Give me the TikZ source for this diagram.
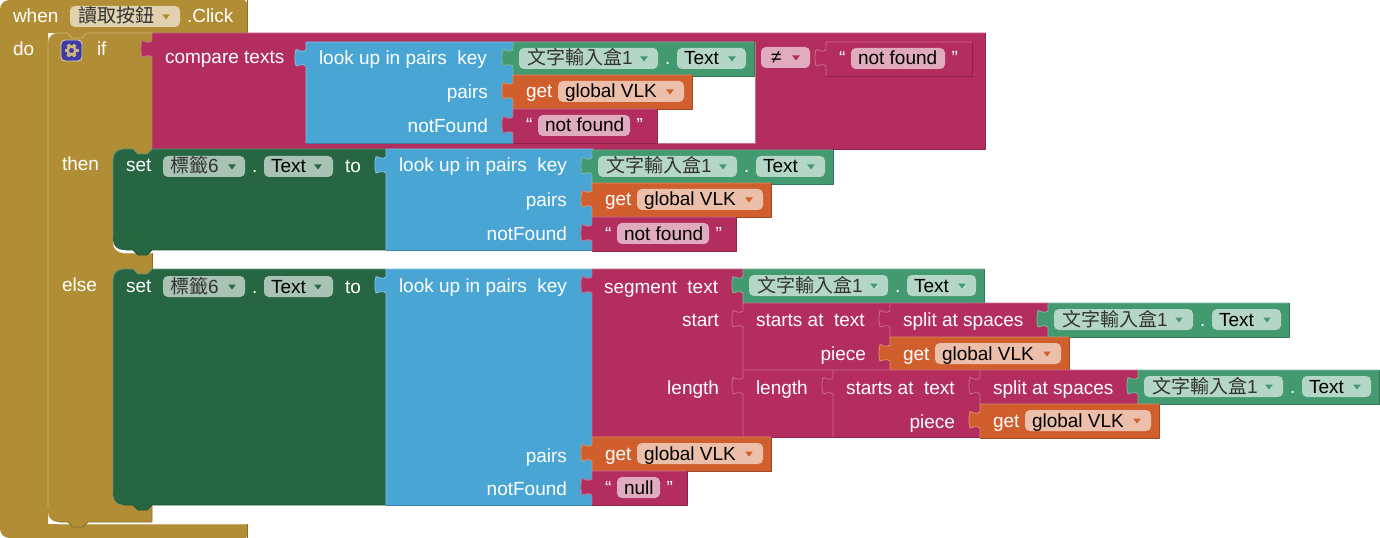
\documentclass[tikz,border=0pt]{standalone}
\usepackage{fontspec}
\setmainfont{Liberation Sans}
\newfontfamily\cjk{Noto Sans CJK TC}
\usetikzlibrary{calc}
\definecolor{cG}{HTML}{B18E35}
\definecolor{cT}{HTML}{B32D5E}
\definecolor{cB}{HTML}{49A6D4}
\definecolor{cD}{HTML}{266643}
\definecolor{cE}{HTML}{439970}
\definecolor{cO}{HTML}{D05F2D}
\definecolor{gearbg}{HTML}{3F3AA8}
\newcounter{lbl}
\tikzset{
  hl/.style={line width=0.6pt,line join=round},
  lab/.style={inner sep=0pt,outer sep=0pt,font=\fontsize{14.25}{16}\selectfont},
  fieldbox/.style={rounded corners=3.6pt,draw=none},
}
\newcommand\wlt[3]{\stepcounter{lbl}\node[lab,anchor=base west,text=white] (t\arabic{lbl}) at (#1,#2+1) {#3};}
\newcommand\wrt[3]{\stepcounter{lbl}\node[lab,anchor=base east,text=white] (t\arabic{lbl}) at (#1,#2+1) {#3};}
\newcommand\blt[3]{\stepcounter{lbl}\node[lab,anchor=base west,text=black] (t\arabic{lbl}) at (#1,#2+1) {#3};}
\newcommand\cjt[3]{\stepcounter{lbl}\node[lab,anchor=base west,text=black!80] (t\arabic{lbl}) at (#1,#2+1) {#3};}
% tab on the left edge, running upward
\def\tabup#1#2{-- (#1,#2+24) .. controls (#1-4,#2+21) and (#1-7,#2+23.5) .. (#1-10,#2+24) .. controls (#1-11.5,#2+19) and (#1-11.5,#2+13) .. (#1-10,#2+7.5) .. controls (#1-7,#2+8) and (#1-4,#2+11) .. (#1,#2+8)}
% x1 y1 x2 y2 colour
\newcommand\blk[5]{%
  \fill[#5] (#1,#2) -- (#3,#2) -- (#3,#4) -- (#1,#4) \tabup{#1}{#2} -- cycle;
  \draw[#5!70!white,hl] (#1,#4) \tabup{#1}{#2} -- (#1,#2) -- (#3,#2);
  \draw[#5!78!black,hl] (#3,#2) -- (#3,#4) -- (#1,#4);
}
% field: x1 x2 top colour arrowx
\newcommand\fld[5]{%
  \fill[#4!40!white,fieldbox] (#1,#3) rectangle (#2,#3+21);
  \fill[#4] (#5-3.8,#3+8.5) -- (#5+3.8,#3+8.5) -- (#5,#3+13.5) -- cycle;
}
% teal property block  x y
\newcommand\tealb[2]{%
  \blk{#1}{#2}{#1+241}{#2+34}{cE}
  \fld{#1+6}{#1+145}{#2+6}{cE}{#1+131}
  \fld{#1+164}{#1+233}{#2+6}{cE}{#1+219}
  \cjt{#1+14}{#2+22}{{\cjk 文字輸入盒}1}
  \wlt{#1+152}{#2+22}{.}
  \blt{#1+171}{#2+22}{Text}
}
% get block x y
\newcommand\getb[2]{%
  \blk{#1}{#2}{#1+179}{#2+34}{cO}
  \wlt{#1+13}{#2+22}{get}
  \fld{#1+45}{#1+171}{#2+6}{cO}{#1+157}
  \blt{#1+52}{#2+22}{global VLK}
}
% string block x y width
\newcommand\strb[4]{%
  \blk{#1}{#2}{#1+#3}{#2+34}{cT}
  \wlt{#1+13}{#2+22}{“}
  \fill[cT!40!white,fieldbox] (#1+25,#2+6) rectangle (#1+#3-27,#2+27);
  \blt{#1+32}{#2+22}{#4}
  \wrt{#1+#3-14}{#2+22}{”}
}
% lookup block x y bottom
\newcommand\look[3]{%
  \blk{#1}{#2}{#1+207}{#3}{cB}
  \wlt{#1+13}{#2+22}{look up in pairs\ \ key}
}
% set block decorated text x y
\newcommand\setrow[2]{%
  \wlt{#1+13}{#2+22}{set}
  \fill[cD!40!white,fieldbox] (#1+50,#2+7) rectangle (#1+132,#2+28);
  \fill[cD] (#1+119-3.8,#2+15.5) -- (#1+119+3.8,#2+15.5) -- (#1+119,#2+20.5) -- cycle;
  \cjt{#1+57}{#2+23}{{\cjk 標籤}6}
  \wlt{#1+139}{#2+23}{.}
  \fill[cD!40!white,fieldbox] (#1+151,#2+7) rectangle (#1+220,#2+28);
  \fill[cD] (#1+205-3.8,#2+15.5) -- (#1+205+3.8,#2+15.5) -- (#1+205,#2+20.5) -- cycle;
  \blt{#1+158}{#2+23}{Text}
  \wlt{#1+232}{#2+23}{to}
}
% dark-green statement block  y1 y2
\newcommand\setblk[2]{%
  \fill[cD] (113,#1+14) [rounded corners=7.5pt] -- (113,#1) [sharp corners] -- (133,#1) -- (138,#1+5) -- (147,#1+5) -- (152,#1) -- (386,#1) -- (386,#2) -- (152,#2) -- (147,#2+5) -- (138,#2+5) -- (133,#2) [rounded corners=7.5pt] -- (113,#2) [sharp corners] -- (113,#2-14) -- cycle;
  \draw[cD!70!white,hl] (113,#2-14) -- (113,#1+14) [rounded corners=7.5pt] -- (113,#1) [sharp corners] -- (133,#1) -- (138,#1+5) -- (147,#1+5) -- (152,#1) -- (386,#1);
  \draw[cD!78!black,hl] (386,#2) -- (152,#2) -- (147,#2+5) -- (138,#2+5) -- (133,#2) -- (125,#2);
}
\begin{document}
\begin{tikzpicture}[x=0.75pt,y=-0.75pt]
\useasboundingbox (0,0) rectangle (1380,538);
\fill[white] (0,0) rectangle (1380,538);
% event block
\fill[cG] (0,528) [rounded corners=7pt] -- (0,0) [rounded corners=2.5pt] -- (247,0) [sharp corners] -- (247,33) -- (87,33) -- (82,38) -- (72,38) -- (67,33) -- (48,33) -- (48,524) -- (247,524) [rounded corners=1pt] -- (247,538) [rounded corners=7pt] -- (0,538) [sharp corners] -- (0,528) -- cycle;
\draw[cG!78!black,hl] (247,0) -- (247,33);
\draw[cG!78!black,hl] (247,524) -- (247,538) -- (9,538);
\draw[cG!70!white,hl] (58,524) -- (247,524);
% if block
\fill[cG] (48,50) [rounded corners=7.5pt] -- (48,33) [sharp corners] -- (67,33) -- (72,38) -- (82,38) -- (87,33) -- (152,33) -- (152,149) -- (147,154) -- (138,154) -- (133,149) [rounded corners=7.5pt] -- (113,149) -- (113,253) [sharp corners] -- (152,253) -- (152,269) -- (147,274) -- (138,274) -- (133,269) [rounded corners=7.5pt] -- (113,269) -- (113,505) [sharp corners] -- (152,505) -- (152,522) -- (88,522) -- (83,527) -- (73,527) -- (68,522) [rounded corners=7.5pt] -- (48,522) [sharp corners] -- (48,508) -- cycle;
\draw[cG!70!white,hl] (48,508) -- (48,50) [rounded corners=7.5pt] -- (48,33) [sharp corners] -- (67,33) -- (72,38) -- (82,38) -- (87,33) -- (152,33);
\draw[cG!78!black,hl] (152,505) -- (152,522) -- (88,522) -- (83,527) -- (73,527) -- (68,522) -- (59,522);
\draw[cG!70!white,hl] (123,253) -- (152,253);
\draw[cG!78!black,hl] (152,253) -- (152,269);
% texts of the event and if blocks
\wlt{13}{22}{when}
\fill[cG!40!white,fieldbox] (70,6) rectangle (180,27);
\fill[cG] (166-3.8,14.5) -- (166+3.8,14.5) -- (166,19.5) -- cycle;
\cjt{78}{22}{{\cjk 讀取按鈕}}
\wlt{187}{22}{.Click}
\wlt{13}{55}{do}
\wlt{97}{55}{if}
\wlt{62}{170}{then}
\wlt{62}{290}{else}
% gear icon
\fill[gearbg,draw=cG!40!white,line width=0.7pt,rounded corners=3pt] (61,40) rectangle (82,61);
\foreach \a in {0,60,...,300}{\draw[cG!65!white,line width=2.6pt] ($(71.5,50.5)+(\a:3.5)$) -- ($(71.5,50.5)+(\a:7)$);}
\draw[cG!65!white,line width=1.9pt] (71.5,50.5) circle (4);
% compare texts
\blk{152}{33}{985}{149}{cT}
\wlt{165}{63}{compare texts}
\fill[white] (513,42) rectangle (755,143);
\draw[cT!70!white,hl] (755,42) -- (755,143) -- (513,143);
\look{306}{42}{143}
\wrt{488}{98}{pairs}
\wrt{488}{132}{notFound}
\tealb{513}{42}
\getb{513}{75}
\strb{513}{109}{144}{not found}
\fill[cT!40!white,fieldbox] (761,47) rectangle (810,68);
\fill[cT] (796-3.8,55.5) -- (796+3.8,55.5) -- (796,60.5) -- cycle;
\blt{771}{63}{≠}
\strb{826}{42}{146}{not found}
% then
\setblk{149}{250}
\setrow{113}{149}
\look{386}{149}{250}
\wrt{567}{206}{pairs}
\wrt{567}{240}{notFound}
\tealb{592}{150}
\getb{592}{183}
\strb{592}{217}{144}{not found}
% else
\setblk{269}{505}
\setrow{113}{269}
\look{386}{269}{505}
\wrt{567}{461}{pairs}
\wrt{567}{494}{notFound}
\blk{592}{269}{743}{437}{cT}
\wlt{604}{292}{segment\ \ text}
\wrt{719}{325}{start}
\wrt{719}{393}{length}
\tealb{743}{269}
\blk{743}{303}{890}{370}{cT}
\wlt{756}{325}{starts at\ \ text}
\wrt{866}{359}{piece}
\blk{890}{303}{1048}{337}{cT}
\wlt{903}{325}{split at spaces}
\tealb{1048}{303}
\getb{890}{337}
\blk{743}{370}{833}{437}{cT}
\wlt{756}{393}{length}
\blk{833}{370}{980}{437}{cT}
\wlt{846}{393}{starts at\ \ text}
\wrt{955}{427}{piece}
\blk{980}{370}{1138}{404}{cT}
\wlt{993}{393}{split at spaces}
\tealb{1138}{370}
\getb{980}{404}
\getb{592}{437}
\strb{592}{471}{95}{null}
\end{tikzpicture}
\end{document}
